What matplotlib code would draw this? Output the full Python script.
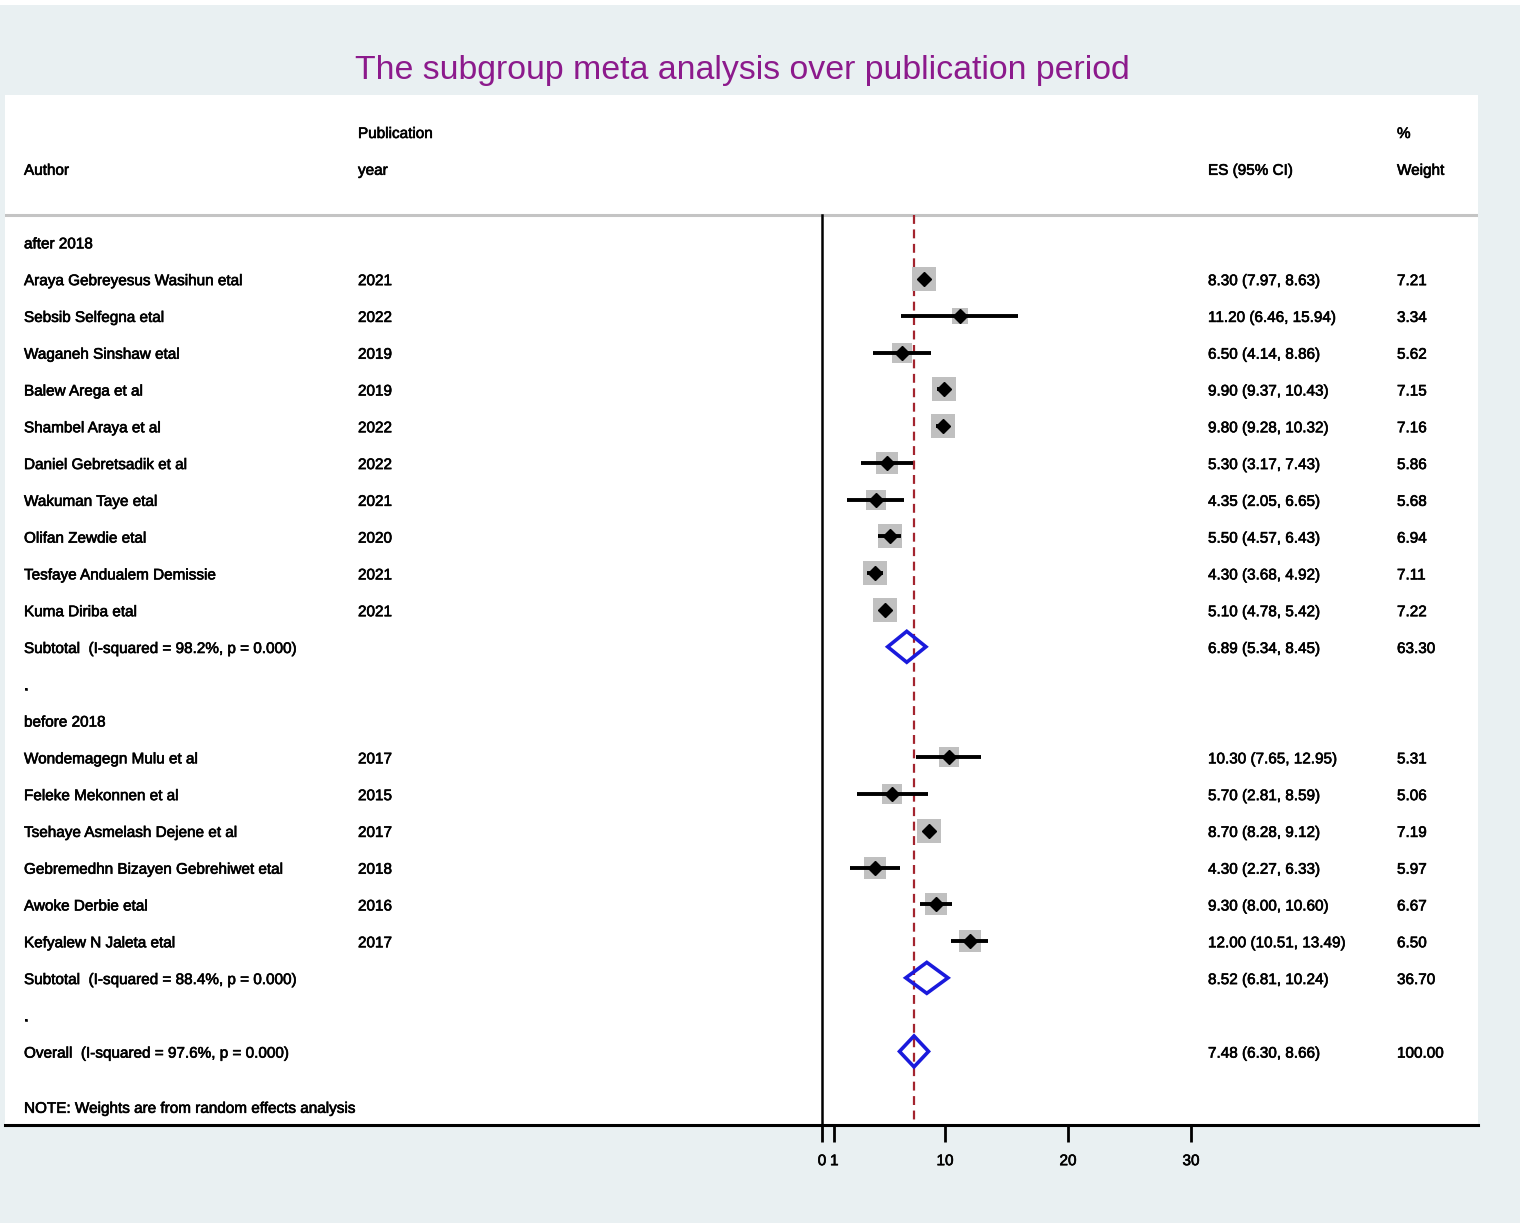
import numpy as np
import matplotlib.pyplot as plt
from matplotlib import transforms
from matplotlib import patheffects as pe
from matplotlib.patches import Polygon, Rectangle

plt.rcParams['font.family'] = ['Liberation Sans', 'DejaVu Sans']

# ---- data ----
authors_after = ['Araya Gebreyesus Wasihun etal', 'Sebsib Selfegna etal', 'Waganeh Sinshaw etal',
                 'Balew Arega et al', 'Shambel Araya et al', 'Daniel Gebretsadik et al',
                 'Wakuman Taye etal', 'Olifan Zewdie etal', 'Tesfaye Andualem Demissie',
                 'Kuma Diriba etal']
years_after = [2021, 2022, 2019, 2019, 2022, 2022, 2021, 2020, 2021, 2021]
es_after = [8.30, 11.20, 6.50, 9.90, 9.80, 5.30, 4.35, 5.50, 4.30, 5.10]
lo_after = [7.97, 6.46, 4.14, 9.37, 9.28, 3.17, 2.05, 4.57, 3.68, 4.78]
hi_after = [8.63, 15.94, 8.86, 10.43, 10.32, 7.43, 6.65, 6.43, 4.92, 5.42]
w_after = [7.21, 3.34, 5.62, 7.15, 7.16, 5.86, 5.68, 6.94, 7.11, 7.22]

authors_before = ['Wondemagegn Mulu et al', 'Feleke Mekonnen et al', 'Tsehaye Asmelash Dejene et al',
                  'Gebremedhn Bizayen Gebrehiwet etal', 'Awoke Derbie etal', 'Kefyalew N Jaleta etal']
years_before = [2017, 2015, 2017, 2018, 2016, 2017]
es_before = [10.30, 5.70, 8.70, 4.30, 9.30, 12.00]
lo_before = [7.65, 2.81, 8.28, 2.27, 8.00, 10.51]
hi_before = [12.95, 8.59, 9.12, 6.33, 10.60, 13.49]
w_before = [5.31, 5.06, 7.19, 5.97, 6.67, 6.50]

sub_labels = ['Subtotal  (I-squared = 98.2%, p = 0.000)', 'Subtotal  (I-squared = 88.4%, p = 0.000)']
sub_es = [6.89, 8.52]
sub_lo = [5.34, 6.81]
sub_hi = [8.45, 10.24]
sub_w = [63.30, 36.70]

overall_label = 'Overall  (I-squared = 97.6%, p = 0.000)'
overall_es, overall_lo, overall_hi, overall_w = 7.48, 6.30, 8.66, 100.00

xticks = [0, 1, 10, 20, 30]

W, H = 1532, 1227
fig = plt.figure(figsize=(W / 100, H / 100), dpi=100)
fig.patch.set_facecolor('white')
fig.patches.append(Rectangle((0, 4 / H), 1520 / W, 1 - 9 / H, transform=fig.transFigure,
                             facecolor='#e9f0f2', edgecolor='none', zorder=-10))

ax = fig.add_axes([5 / W, 1 - 1125 / H, (1478 - 5) / W, (1125 - 95) / H])
ax.set_facecolor('white')
px_per_unit = 12.3
ax.set_xlim((5 - 822) / px_per_unit, (1478 - 822) / px_per_unit)
ax.set_ylim(24, -4)
for s in ['top', 'left', 'right']:
    ax.spines[s].set_visible(False)
ax.spines['bottom'].set_linewidth(2.2)
ax.set_yticks([])
ax.set_xticks(xticks)
ax.tick_params(axis='x', length=12, width=2, labelsize=11, pad=9)
bold_fx = [pe.withStroke(linewidth=0.45, foreground='black')]
for lab in ax.get_xticklabels():
    lab.set_path_effects(bold_fx)

tr = transforms.blended_transform_factory(fig.transFigure, ax.transData)
fs = 11
dy = 0.06
col_author, col_year, col_es, col_w = 24 / W, 358 / W, 1208 / W, 1397 / W


def txt(x, y, s):
    ax.text(x, y + dy, s, transform=tr, va='center', fontsize=fs, path_effects=bold_fx)


# header
txt(col_author, -2, 'Author')
txt(col_year, -3, 'Publication')
txt(col_year, -2, 'year')
txt(col_es, -2, 'ES (95% CI)')
txt(col_w, -3, '%')
txt(col_w, -2, 'Weight')
ax.axhline(-0.73, color='#c4c4c4', lw=2.2)

sep = -0.73
ax.plot([0, 0], [sep, 24], color='black', lw=1.8, zorder=2)
ax.plot([overall_es, overall_es], [sep, 24], color='#a3242e', lw=1.6,
        linestyle=(0, (4, 2.5)), zorder=3)


def study_rows(start, authors, years, es, lo, hi, w):
    for i in range(len(authors)):
        y = start + i
        ax.scatter(es[i], y, marker='s', s=40 * w[i], color='#c0c0c0', zorder=4, linewidths=0)
        ax.plot([lo[i], hi[i]], [y, y], color='black', lw=2.8, zorder=5, solid_capstyle='butt')
        ax.plot(es[i], y, marker='D', ms=7, color='black', zorder=6)
        txt(col_author, y, authors[i])
        txt(col_year, y, str(years[i]))
        txt(col_es, y, f'{es[i]:.2f} ({lo[i]:.2f}, {hi[i]:.2f})')
        txt(col_w, y, f'{w[i]:.2f}')


def diamond(y, label, es, lo, hi, w):
    h = 0.42
    ax.add_patch(Polygon([[lo, y], [es, y - h], [hi, y], [es, y + h]], closed=True,
                         facecolor='none', edgecolor='#1a1adc', lw=2.6, zorder=6))
    txt(col_author, y, label)
    txt(col_es, y, f'{es:.2f} ({lo:.2f}, {hi:.2f})')
    txt(col_w, y, f'{w:.2f}')


txt(col_author, 0, 'after 2018')
study_rows(1, authors_after, years_after, es_after, lo_after, hi_after, w_after)
diamond(11, sub_labels[0], sub_es[0], sub_lo[0], sub_hi[0], sub_w[0])
txt(col_author, 12, '.')
txt(col_author, 13, 'before 2018')
study_rows(14, authors_before, years_before, es_before, lo_before, hi_before, w_before)
diamond(20, sub_labels[1], sub_es[1], sub_lo[1], sub_hi[1], sub_w[1])
txt(col_author, 21, '.')
diamond(22, overall_label, overall_es, overall_lo, overall_hi, overall_w)
txt(col_author, 23.5, 'NOTE: Weights are from random effects analysis')

fig.text(742 / W, 1 - 71 / H, 'The subgroup meta analysis over publication period',
         ha='center', va='center', fontsize=24.4, color='#8c1a8c')

fig.savefig('out.png', dpi=100)
